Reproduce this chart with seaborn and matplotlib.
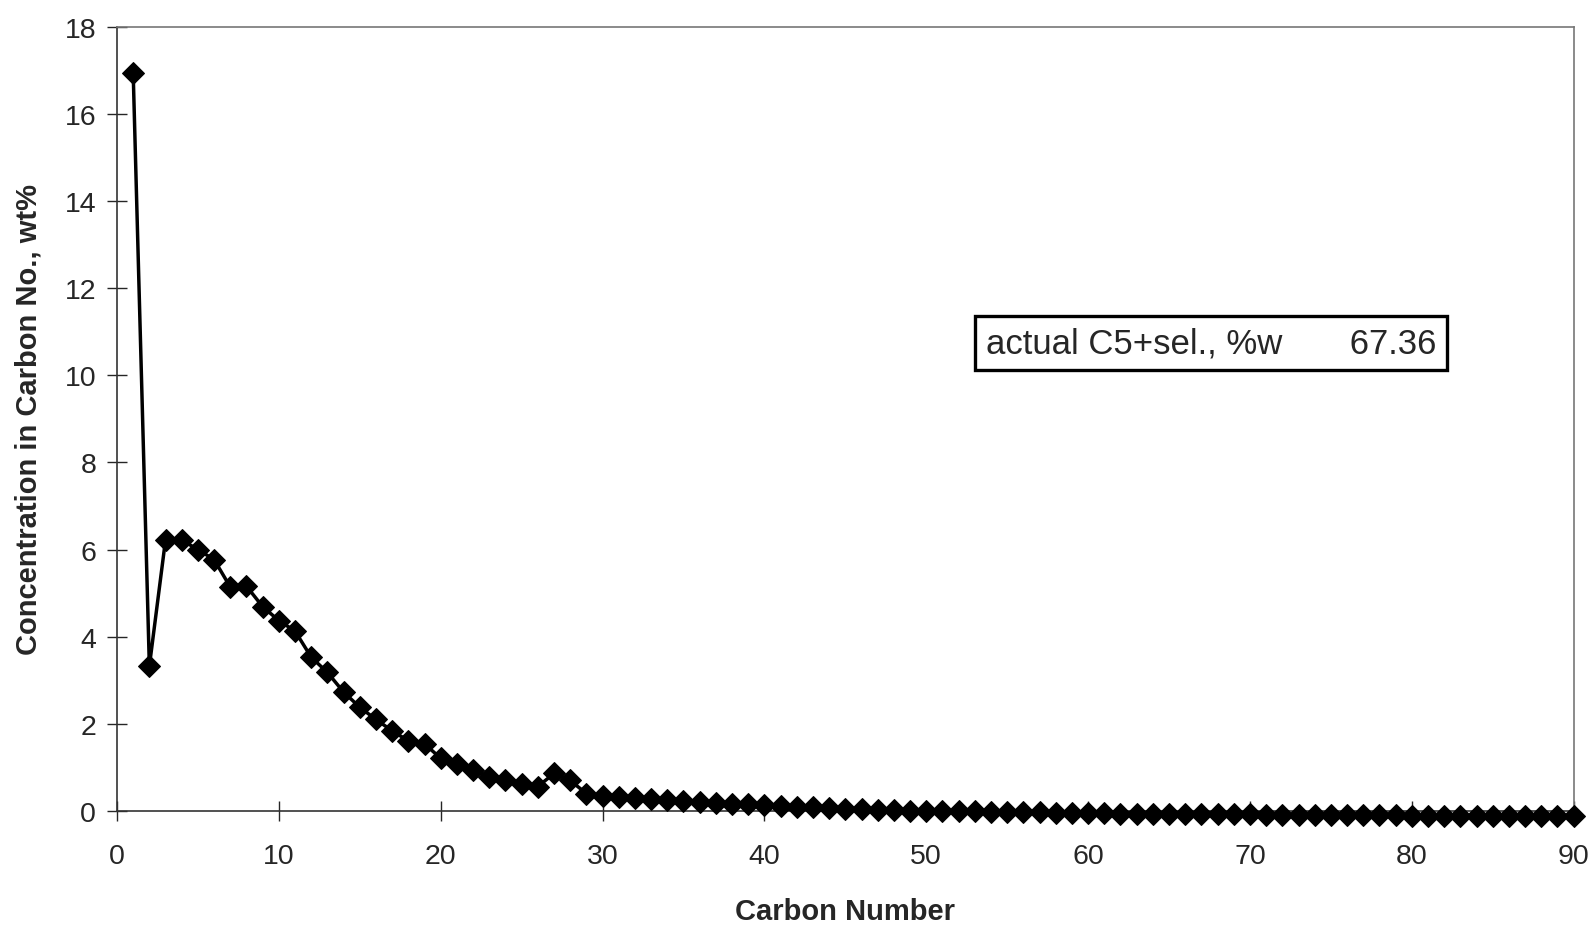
import numpy as np
import pandas as pd
import seaborn as sns
import matplotlib.pyplot as plt

# Carbon number distribution
carbon_number = list(range(1, 91))
conc_head = [16.95, 3.32, 6.23, 6.22, 6.00, 5.77, 5.14, 5.16, 4.69, 4.37,
             4.13, 3.53, 3.18, 2.73, 2.38, 2.10, 1.84, 1.61, 1.54, 1.21,
             1.07, 0.93, 0.79, 0.70, 0.61, 0.56, 0.86, 0.70, 0.40, 0.35,
             0.33, 0.30, 0.27, 0.25, 0.23, 0.21, 0.19, 0.17, 0.15, 0.13,
             0.11, 0.09, 0.08, 0.06, 0.05, 0.04, 0.03, 0.02, 0.01, 0.00]
conc_tail = [0.00, -0.01, -0.01, -0.02, -0.02, -0.03, -0.03, -0.04, -0.04, -0.05,
             -0.05, -0.06, -0.06, -0.06, -0.07, -0.07, -0.07, -0.08, -0.08, -0.08,
             -0.09, -0.09, -0.09, -0.09, -0.10, -0.10, -0.10, -0.10, -0.10, -0.11,
             -0.11, -0.11, -0.11, -0.11, -0.11, -0.12, -0.12, -0.12, -0.12, -0.12]
concentration = conc_head + conc_tail
selectivity_label = "actual C5+sel., %w"
selectivity_value = "67.36"

df = pd.DataFrame({"Carbon Number": carbon_number, "Concentration": concentration})

sns.set_style("ticks")
plt.rcParams["font.family"] = ["Liberation Sans", "DejaVu Sans"]

fig = plt.figure(figsize=(15.96, 9.29), dpi=100)
ax = fig.add_axes([0.0733, 0.126, 0.9127, 0.844])

sns.lineplot(data=df, x="Carbon Number", y="Concentration", ax=ax,
             color="black", linewidth=2.5, marker="D", markersize=11.5,
             markeredgecolor="black", markerfacecolor="black", clip_on=False, zorder=5)

ax.set_xlim(0, 90)
ax.set_ylim(0, 18)
ax.set_xticks(range(0, 91, 10))
ax.set_yticks(range(0, 19, 2))
ax.tick_params(direction="inout", length=14, width=1, labelsize=20.5)
ax.tick_params(axis="x", pad=16)
ax.tick_params(axis="y", pad=8)

for side in ["left", "bottom", "top", "right"]:
    ax.spines[side].set_visible(True)
    ax.spines[side].set_linewidth(1.2)
    ax.spines[side].set_color("#333333")
ax.spines["right"].set_color("#777777")
ax.spines["top"].set_color("#777777")

ax.set_xlabel("Carbon Number", fontsize=21, fontweight="bold", labelpad=20)
ax.set_ylabel("Concentration in Carbon No., wt%", fontsize=21, fontweight="bold", labelpad=16)

# selectivity box
box_text = f"{selectivity_label}       {selectivity_value}"
ax.text(0.751, 0.597, box_text, transform=ax.transAxes, ha="center", va="center",
        fontsize=25,
        bbox=dict(boxstyle="square,pad=0.3", facecolor="white", edgecolor="black", linewidth=2.4))

fig.savefig("out.png", dpi=100)
